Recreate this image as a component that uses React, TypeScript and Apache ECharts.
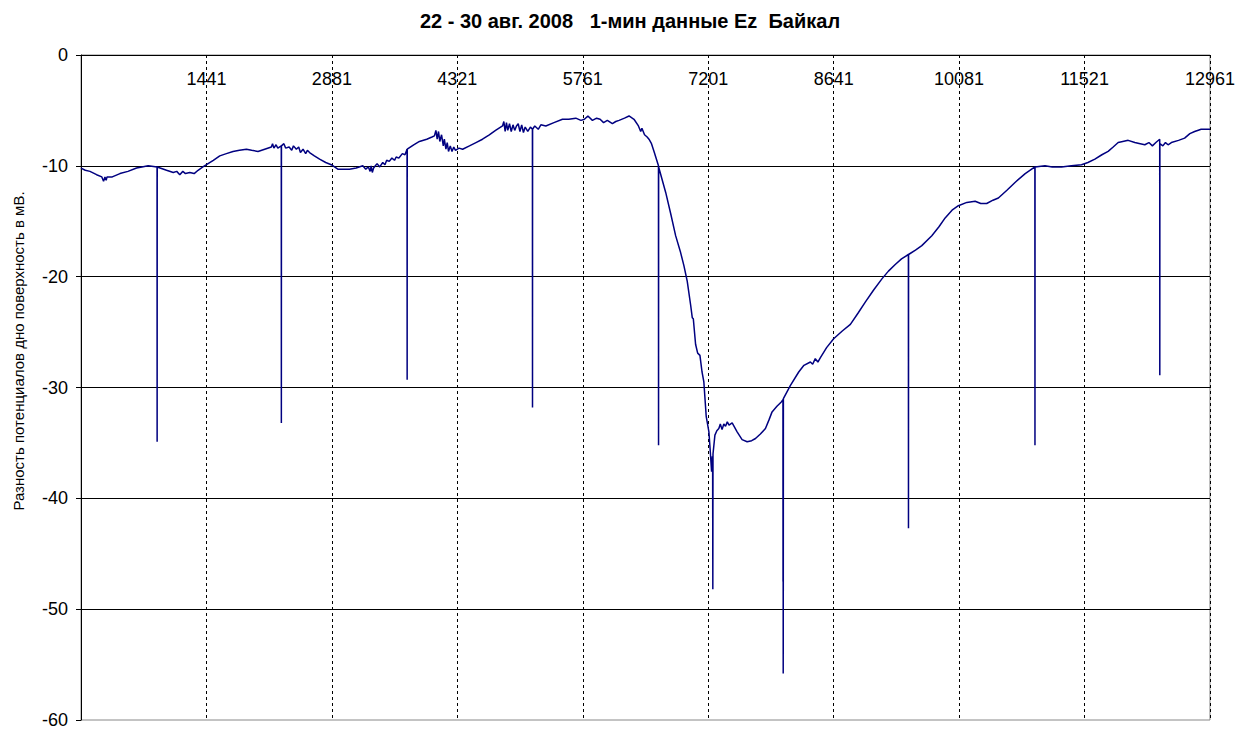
import React, { useEffect, useRef } from "react";
import * as echarts from "echarts";

const chartTitle = "22 - 30 авг. 2008   1-мин данные Ez  Байкал";
const yAxisTitle = "Разность потенциалов дно поверхность в мВ.";

// minute number (1-min samples)
const minutes = [
  1, 50, 104, 180, 240, 260, 276, 290, 300, 360, 448, 540, 639, 700, 772, 874, 875, 876,
  983, 1060, 1100, 1135, 1170, 1200, 1250, 1300, 1345, 1400, 1441, 1520, 1594, 1670, 1746,
  1820, 1900, 1960, 2033, 2110, 2186, 2200, 2215, 2240, 2260, 2300, 2301, 2302, 2330, 2350,
  2390, 2420, 2440, 2473, 2500, 2520, 2550, 2580, 2600,
  2625, 2680, 2740, 2810, 2874, 2949, 3000, 3083, 3160, 3236, 3270, 3300, 3320, 3332, 3345,
  3360, 3380, 3400, 3430, 3465, 3490, 3510, 3540, 3570, 3600, 3619, 3650, 3690, 3720, 3744, 3745, 3746,
  3820, 3886, 3970, 4030, 4058, 4075, 4090, 4105, 4120, 4140, 4160, 4172, 4190, 4205, 4220,
  4240, 4260, 4280, 4300, 4340, 4382, 4460, 4535, 4610, 4688, 4760, 4800, 4840, 4855, 4870,
  4885, 4900, 4920, 4940, 4960, 4980, 5000, 5020, 5040, 5060, 5080, 5100, 5130, 5160, 5183,
  5184, 5185, 5210, 5250, 5280, 5337, 5430, 5528, 5600, 5681, 5740, 5780, 5820, 5872, 5920,
  5960, 6000, 6043, 6101, 6140, 6178, 6240, 6292, 6349, 6400, 6426, 6440, 6470, 6500, 6521,
  6550, 6579, 6630, 6631, 6632, 6713, 6770, 6827, 6880, 6922, 6960, 7000, 7018, 7030, 7056,
  7080, 7106, 7130, 7151, 7178, 7209, 7225, 7240, 7248, 7252, 7254, 7256, 7278, 7300, 7323,
  7340, 7360, 7380, 7400, 7420, 7440, 7476, 7533, 7590, 7648, 7700, 7744, 7800, 7858, 7900,
  7934, 7990, 8040, 8059, 8060, 8061, 8062, 8063, 8064, 8145, 8240, 8300, 8374, 8400, 8430,
  8460, 8489, 8560, 8641, 8740, 8833, 8920, 9004, 9100, 9195, 9270, 9348, 9420, 9499, 9500,
  9501, 9580, 9653, 9768, 9850, 9921, 10000, 10073, 10170, 10265, 10330, 10398, 10470, 10532,
  10630, 10723, 10840, 10951, 10952, 10953, 11067, 11150, 11257, 11370, 11486, 11560, 11640,
  11720, 11792, 11850, 11907, 11960, 12022, 12098, 12160, 12213, 12260, 12300, 12340, 12384,
  12385, 12386, 12420, 12450, 12480, 12518, 12600, 12670, 12730, 12785, 12860, 12938, 12961,
];

// Ez potential difference, mV
const ezValues = [
  -10.2, -10.4, -10.5, -10.8, -11.0, -11.4, -11.0, -11.3, -11.0, -11.0, -10.7, -10.5, -10.2, -10.1, -10.0, -10.1, -34.9, -10.1,
  -10.4, -10.6, -10.5, -10.8, -10.5, -10.7, -10.6, -10.7, -10.4, -10.1, -9.9, -9.5, -9.1, -8.9, -8.7,
  -8.6, -8.5, -8.6, -8.7, -8.5, -8.3, -8.0, -8.4, -8.1, -8.4, -8.2, -33.2, -8.2, -8.0, -8.4,
  -8.3, -8.6, -8.2, -8.5, -8.3, -8.8, -8.5, -8.9, -8.6,
  -8.8, -9.1, -9.4, -9.7, -9.9, -10.3, -10.3, -10.3, -10.2, -10.0, -10.3, -10.1, -10.5, -10.0, -10.6,
  -10.2, -10.0, -9.8, -10.1, -9.7, -9.9, -9.5, -9.6, -9.3, -9.5, -9.2, -9.3, -8.9, -9.0, -8.5, -29.3, -8.5,
  -8.1, -7.8, -7.6, -7.4, -7.3, -6.8, -7.6, -6.9, -7.8, -7.2, -8.2, -7.6, -8.5, -7.9, -8.7,
  -8.2, -8.7, -8.3, -8.6, -8.4, -8.5, -8.2, -7.9, -7.6, -7.2, -6.8, -6.6, -6.4, -6.0, -6.9,
  -6.1, -6.8, -6.2, -6.9, -6.3, -6.8, -6.4, -6.2, -6.9, -6.3, -7.0, -6.5, -6.9, -6.5, -6.7,
  -31.8, -6.7, -6.4, -6.7, -6.3, -6.4, -6.1, -5.8, -5.8, -5.7, -5.9, -5.8, -5.5, -5.9, -5.7,
  -5.8, -6.1, -5.9, -6.2, -6.0, -5.9, -5.7, -5.5, -5.8, -6.4, -6.9, -6.6, -7.2, -7.4, -7.6,
  -8.0, -8.7, -10.0, -35.2, -10.1, -12.4, -14.3, -16.3, -17.7, -19.0, -20.4, -22.6, -23.7, -23.8, -26.1,
  -26.9, -27.1, -28.6, -29.5, -32.6, -34.0, -35.8, -37.6, -36.2, -37.7, -48.2, -36.0, -34.3, -33.9, -33.7,
  -33.3, -33.8, -33.3, -33.5, -33.1, -33.4, -33.2, -34.0, -34.7, -34.9, -34.8, -34.6, -34.2, -33.7, -32.9,
  -32.2, -31.7, -31.3, -31.1, -47.5, -31.2, -55.8, -47.3, -31.0, -29.8, -28.6, -28.0, -27.7, -27.9, -27.4,
  -27.7, -27.3, -26.4, -25.6, -24.9, -24.3, -23.3, -22.3, -21.2, -20.2, -19.5, -18.9, -18.4, -18.0, -42.7,
  -18.0, -17.6, -17.2, -16.3, -15.5, -14.7, -14.0, -13.6, -13.3, -13.2, -13.4, -13.4, -13.1, -12.9,
  -12.2, -11.5, -10.7, -10.1, -35.2, -10.1, -10.0, -10.1, -10.1, -10.0, -9.9, -9.7, -9.4,
  -9.0, -8.7, -8.3, -7.9, -7.8, -7.7, -7.9, -8.0, -8.1, -7.9, -8.2, -7.9, -7.6,
  -28.9, -8.0, -8.2, -7.9, -8.1, -7.9, -7.7, -7.5, -7.1, -6.9, -6.7, -6.7, -6.7,
];

const FONT = "'Liberation Sans', Arial, sans-serif";

export default function App() {
  const ref = useRef<HTMLDivElement>(null);

  useEffect(() => {
    if (!ref.current) return;
    const chart = echarts.init(ref.current, undefined, { renderer: "svg" });
    const data = minutes.map((m, i) => [m - 1, ezValues[i]]);
    chart.setOption({
      animation: false,
      backgroundColor: "#ffffff",
      grid: {
        left: 81,
        right: 26,
        top: 55,
        bottom: 6,
        show: true,
        borderColor: "#888888",
        borderWidth: 1,
      },
      graphic: [
        {
          type: "text",
          x: 630,
          y: 21,
          style: {
            text: chartTitle,
            fontFamily: FONT,
            fontSize: 20,
            fontWeight: "bold",
            fill: "#000",
            align: "center",
            verticalAlign: "middle",
          },
        },
        {
          type: "text",
          x: 18,
          y: 351,
          rotation: Math.PI / 2,
          style: {
            text: yAxisTitle,
            fontFamily: FONT,
            fontSize: 15,
            fill: "#000",
            align: "center",
            verticalAlign: "middle",
          },
        },
      ],
      xAxis: {
        type: "value",
        position: "top",
        min: 0,
        max: 12960,
        interval: 1440,
        axisLine: { show: true, onZero: false, lineStyle: { color: "#000", width: 1 } },
        axisTick: { show: false },
        axisLabel: {
          inside: true,
          margin: 15,
          color: "#000",
          fontFamily: FONT,
          fontSize: 18,
          showMaxLabel: true,
          hideOverlap: false,
          formatter: (v: number) => (v === 0 ? "" : String(v + 1)),
        },
        splitLine: {
          show: true,
          lineStyle: { color: "#000", width: 1, type: [3, 3] },
        },
      },
      yAxis: {
        type: "value",
        min: -60,
        max: 0,
        interval: 10,
        axisLine: { show: true, lineStyle: { color: "#000", width: 1 } },
        axisTick: { show: true, length: 5, lineStyle: { color: "#000" } },
        axisLabel: {
          color: "#000",
          fontFamily: FONT,
          fontSize: 18,
          margin: 13,
        },
        splitLine: {
          show: true,
          showMinLine: false,
          lineStyle: { color: "#000", width: 1 },
        },
      },
      series: [
        {
          type: "line",
          data,
          symbol: "none",
          lineStyle: { color: "#000080", width: 1.5 },
          itemStyle: { color: "#000080" },
          z: 5,
        },
      ],
    });
    return () => chart.dispose();
  }, []);

  return (
    <div
      ref={ref}
      style={{ position: "fixed", left: 0, top: 0, width: 1238, height: 729, background: "#fff" }}
    />
  );
}
